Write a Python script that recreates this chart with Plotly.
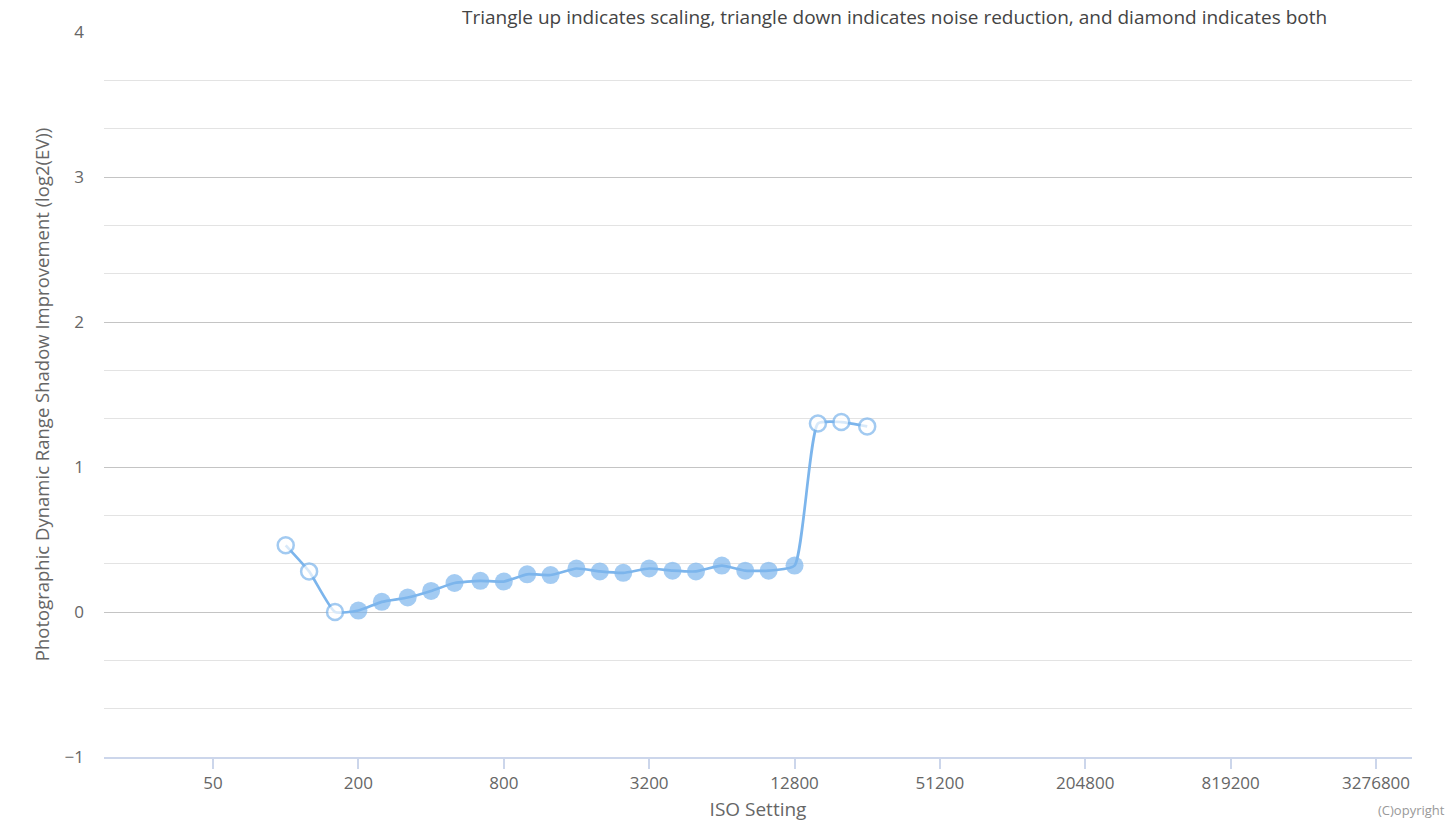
import math
import plotly.graph_objects as go

iso = [100, 125, 160, 200, 250, 320, 400, 500, 640, 800, 1000, 1250, 1600, 2000,
       2500, 3200, 4000, 5000, 6400, 8000, 10000, 12800, 16000, 20000, 25600]
pdr_improvement = [0.46, 0.28, 0.00, 0.01, 0.07, 0.10, 0.145, 0.20, 0.215, 0.21, 0.26,
                   0.255, 0.30, 0.28, 0.27, 0.30, 0.285, 0.28, 0.32, 0.285, 0.285, 0.32,
                   1.30, 1.31, 1.28]
open_marker = [True, True, True] + [False] * 19 + [True, True, True]
tick_iso = [50, 200, 800, 3200, 12800, 51200, 204800, 819200, 3276800]
tick_labels = [str(v) for v in tick_iso]

COLOR = "#7cb5ec"
FONT = "Open Sans"

x = [math.log2(v) for v in iso]
fill = ["#ffffff" if o else COLOR for o in open_marker]
lw = [2.5 if o else 0 for o in open_marker]
sizes = [16 if o else 18 for o in open_marker]

fig = go.Figure()
fig.add_trace(go.Scatter(
    x=x, y=pdr_improvement, mode="lines+markers",
    line=dict(color=COLOR, width=2.7, shape="spline", smoothing=0.5),
    marker=dict(color=fill, size=sizes, line=dict(color=COLOR, width=lw)),
    hovertemplate="ISO %{text}: %{y}<extra></extra>", text=[str(v) for v in iso],
    showlegend=False,
))

# page body has an 8px margin, so the figure is shrunk to place the plot area
W, H = 1439, 814
L, R, T, B = 96, 35, 24, 65
PW, PH = W - L - R, H - T - B

fig.update_layout(
    width=W, height=H,
    margin=dict(l=L, r=R, t=T, b=B),
    paper_bgcolor="white", plot_bgcolor="white",
    font=dict(family=FONT, color="#666666", size=17),
    xaxis=dict(
        range=[math.log2(50) - 1.5, math.log2(3276800) + 0.495],
        tickvals=[math.log2(v) for v in tick_iso], ticktext=tick_labels,
        showgrid=False, zeroline=False, automargin=False,
        showline=True, linecolor="#ccd6eb", linewidth=2,
        ticks="outside", tickcolor="#ccd6eb", ticklen=10, tickwidth=1.5,
        tickfont=dict(size=17, color="#666666"),
        title=dict(text="ISO Setting", font=dict(size=19, color="#666666"), standoff=13),
    ),
    yaxis=dict(
        range=[-1, 4], tickvals=[-1, 0, 1, 2, 3, 4], ticktext=["\u22121", "0", "1", "2", "3", "4"],
        showgrid=True, gridcolor="#c4c4c4", gridwidth=1,
        zeroline=False, showline=False, automargin=False,
        minor=dict(dtick=1/3, tick0=0, showgrid=True, gridcolor="#e3e3e3", gridwidth=1),
        ticks="", tickfont=dict(size=17, color="#666666"), ticklabelstandoff=19,
        title=dict(text="Photographic Dynamic Range Shadow Improvement (log2(EV))",
                   font=dict(size=18.5, color="#666666"), standoff=10),
    ),
    annotations=[
        dict(text="Triangle up indicates scaling, triangle down indicates noise reduction, and diamond indicates both",
             xref="paper", yref="paper", x=(895 - 104) / PW, y=1, yanchor="bottom", xanchor="center",
             yshift=1, borderpad=0, showarrow=False, font=dict(size=19, color="#444444")),
        dict(text="(C)opyright", xref="paper", yref="paper", x=(PW + R) / PW, y=0,
             xanchor="right", yanchor="middle", yshift=-53, showarrow=False,
             font=dict(size=13, color="#999999")),
    ],
)

fig.write_html("out.html")
